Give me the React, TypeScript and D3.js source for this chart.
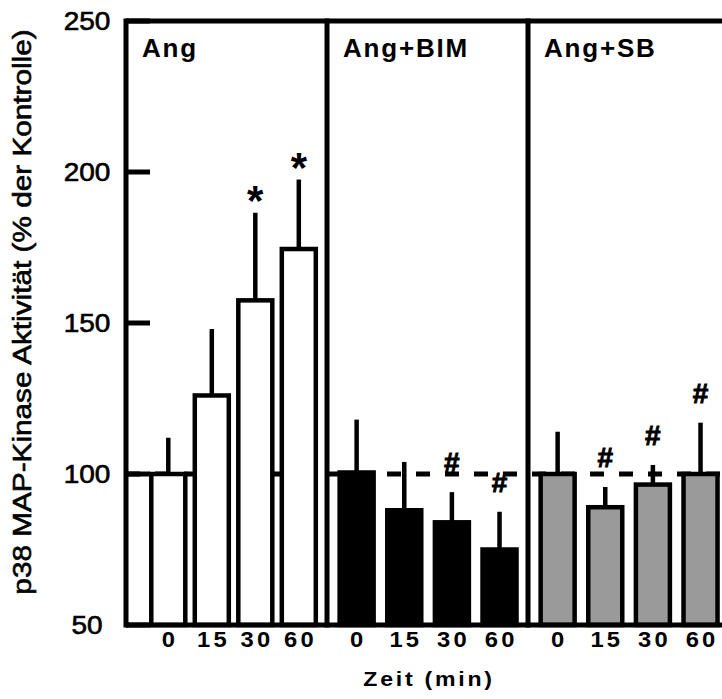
import * as d3 from "d3";

// data
const panels = ["Ang", "Ang+BIM", "Ang+SB"];
const times = ["0", "15", "30", "60"];
const yTicks = [50, 100, 150, 200, 250];

const angMeans = [100, 126, 157.5, 174.5];
const angErrors = [12, 22, 29, 23];
const bimMeans = [100.5, 88, 84, 75];
const bimErrors = [17.5, 16, 10, 12.5];
const sbMeans = [100, 89, 96.5, 100];
const sbErrors = [14, 6.7, 6.5, 17];

// significance markers ("*" vs Ang 0, "#" vs Ang)
const angMarks = ["", "", "*", "*"];
const bimMarks = ["", "", "#", "#"];
const sbMarks = ["", "#", "#", "#"];

const W = 722;
const H = 699;
const left = 126;
const panelW = 201;
const font = "'Liberation Sans', Arial, Helvetica, sans-serif";

export default function App() {
  const y = d3.scaleLinear().domain([50, 250]).range([625, 21]);
  const xPanel = d3
    .scaleBand()
    .domain(panels)
    .range([left, left + panelW * panels.length]);

  const series = [
    { name: panels[0], means: angMeans, errs: angErrors, marks: angMarks, fill: "#ffffff", pad: 0.81, align: 0.6 },
    { name: panels[1], means: bimMeans, errs: bimErrors, marks: bimMarks, fill: "#000000", pad: 0.61, align: 0.51 },
    { name: panels[2], means: sbMeans, errs: sbErrors, marks: sbMarks, fill: "#9a9a9a", pad: 0.61, align: 0.51 },
  ];

  const barW = 34;
  const x0 = xPanel(panels[0])!;
  const xEnd = x0 + xPanel.step() * panels.length;

  return (
    <svg width={W} height={H} style={{ position: "absolute", left: 0, top: 0, background: "#fff" }}>
      {/* reference line at 100 % */}
      <line x1={x0} x2={xEnd} y1={y(100)} y2={y(100)} stroke="#000" strokeWidth={5} strokeDasharray="14 15" />

      {series.map((s) => {
        const px = xPanel(s.name)!;
        const xi = d3.scalePoint().domain(times).range([px, px + xPanel.bandwidth()]).padding(s.pad).align(s.align);
        return (
          <g key={s.name}>
            {times.map((t, i) => {
              const cx = xi(t)!;
              const top = y(s.means[i]);
              const errTop = y(s.means[i] + s.errs[i]);
              const mark = s.marks[i];
              return (
                <g key={t}>
                  <line x1={cx} x2={cx} y1={top} y2={errTop} stroke="#000" strokeWidth={4.5} />
                  <rect x={cx - barW / 2} y={top} width={barW} height={y(50) - top} fill={s.fill} stroke="#000" strokeWidth={4.5} />
                  {mark === "*" && (
                    <text x={cx} y={errTop + 2} textAnchor="middle" fontFamily={font} fontWeight="bold" fontSize={42}>*</text>
                  )}
                  {mark === "#" && (
                    <text x={cx} y={errTop - 20} textAnchor="middle" fontFamily={font} fontWeight="bold" fontSize={28} stroke="#000" strokeWidth={0.9}>#</text>
                  )}
                  <text
                    x={cx + 1.5}
                    y={647}
                    textAnchor="middle"
                    fontFamily={font}
                    fontWeight="bold"
                    fontSize={22}
                    letterSpacing={3}
                    transform={`translate(${cx},0) scale(1.08,1) translate(${-cx},0)`}
                  >
                    {t}
                  </text>
                </g>
              );
            })}
            <text x={px + 16} y={57} fontFamily={font} fontWeight="bold" fontSize={26} letterSpacing={1.8}>{s.name}</text>
          </g>
        );
      })}

      {/* frame and panel dividers */}
      <line x1={x0} x2={xEnd} y1={y(250)} y2={y(250)} stroke="#000" strokeWidth={5} />
      <line x1={x0} x2={xEnd} y1={y(50)} y2={y(50)} stroke="#000" strokeWidth={5} />
      {panels.map((p) => (
        <line key={p} x1={xPanel(p)!} x2={xPanel(p)!} y1={y(250) - 2.5} y2={y(50) + 2.5} stroke="#000" strokeWidth={5} />
      ))}

      {/* y axis ticks and labels */}
      {yTicks.map((v) => (
        <g key={v}>
          <line x1={x0} x2={x0 + 24} y1={y(v)} y2={y(v)} stroke="#000" strokeWidth={5} />
          <text
            x={87}
            y={y(v) + 9}
            textAnchor="middle"
            fontFamily={font}
            fontSize={25}
            stroke="#000"
            strokeWidth={0.6}
            transform={`translate(87,0) scale(1.12,1) translate(-87,0)`}
          >
            {v}
          </text>
        </g>
      ))}

      <text
        transform={`translate(31,312) rotate(-90) scale(1.19,1)`}
        textAnchor="middle"
        fontFamily={font}
        fontSize={25}
        stroke="#000"
        strokeWidth={0.6}
      >
        p38 MAP-Kinase Aktivität (% der Kontrolle)
      </text>

      <text
        x={429}
        y={686}
        textAnchor="middle"
        fontFamily={font}
        fontWeight="bold"
        fontSize={21}
        letterSpacing={2.5}
        transform={`translate(429,0) scale(1.1,1) translate(-429,0)`}
      >
        Zeit (min)
      </text>
    </svg>
  );
}
